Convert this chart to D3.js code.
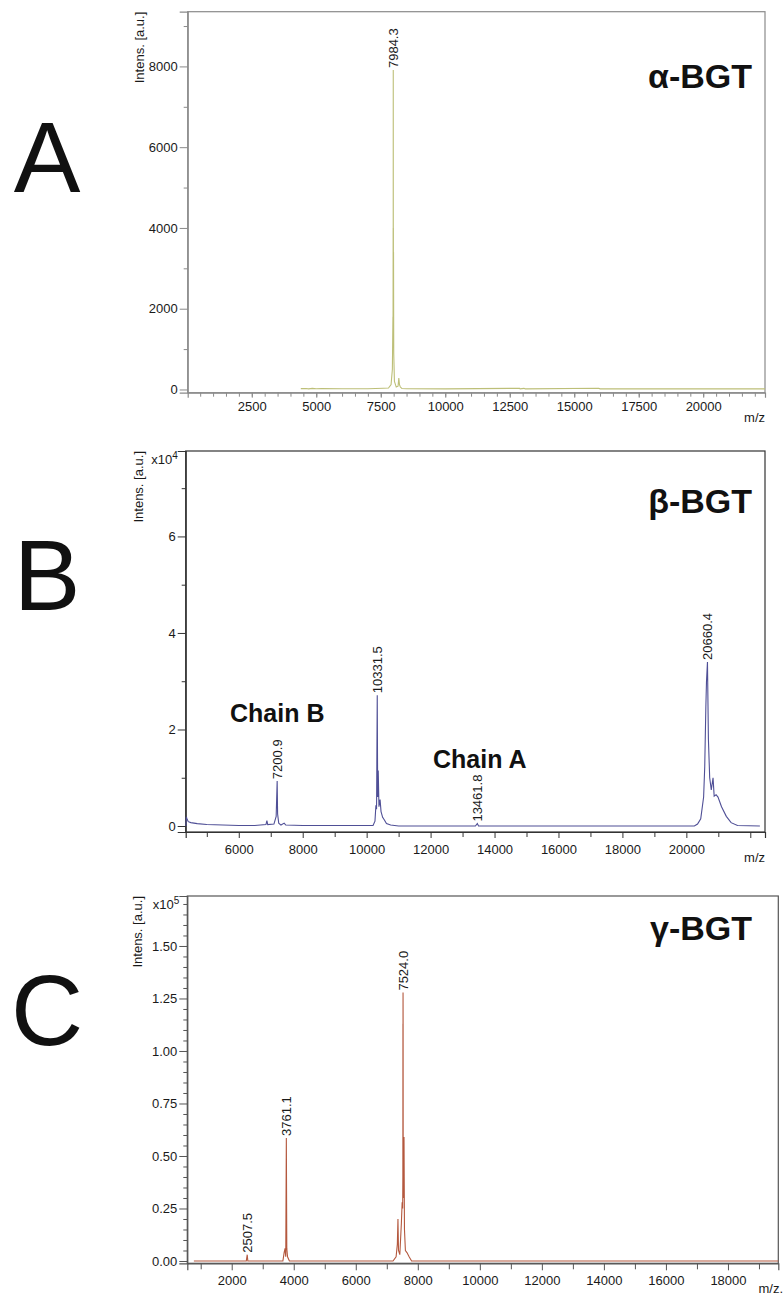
<!DOCTYPE html>
<html>
<head>
<meta charset="utf-8">
<script src="https://cdn.jsdelivr.net/npm/d3@7"></script>
<style>
  body { margin: 0; background: #fff; }
  svg text { font-family: "Liberation Sans", Arial, sans-serif; }
</style>
</head>
<body>
<svg id="chart" width="783" height="1295"></svg>
<script>
// ---- data ----
// alpha-BGT spectrum, [m/z, intensity a.u.]
const alphaSpectrum = [
  [4400, 20], [4600, 25], [4700, 15], [4850, 28], [5000, 18], [5200, 22], [6000, 18],
  [7000, 18], [7600, 30], [7800, 35], [7900, 120], [7950, 500], [7962, 1200],
  [7972, 1800], [7976, 1500], [7980, 4000], [7982, 1600], [7984.3, 7910], [7987, 1800],
  [7989, 4000], [7991, 1500], [7995, 3400], [8003, 900], [8030, 200], [8100, 60],
  [8170, 80], [8200, 280], [8225, 120], [8260, 60], [8320, 25], [8500, 18],
  [10000, 15], [12880, 30], [12900, 15], [13050, 28], [13100, 15], [15950, 30],
  [16000, 15], [22395, 15]
];
// beta-BGT spectrum, [m/z, intensity x10^4]
const betaSpectrum = [
  [4345, 0.0], [4360, 0.19], [4380, 0.15], [4420, 0.09], [4500, 0.07], [4700, 0.05],
  [5000, 0.03], [5500, 0.02], [6000, 0.01], [6500, 0.01], [6850, 0.03], [6880, 0.11],
  [6905, 0.03], [7100, 0.04], [7170, 0.2], [7200.9, 0.93], [7215, 0.25], [7250, 0.06],
  [7320, 0.02], [7420, 0.06], [7470, 0.02], [8000, 0.01], [10200, 0.01], [10260, 0.1],
  [10290, 0.43], [10310, 0.35], [10331.5, 2.71], [10345, 0.6], [10362, 1.15],
  [10385, 0.4], [10420, 0.55], [10450, 0.3], [10500, 0.18], [10560, 0.12],
  [10620, 0.05], [10750, 0.02], [11000, 0.0], [13400, 0.0], [13461.8, 0.05],
  [13500, 0.0], [20250, 0.0], [20350, 0.04], [20450, 0.15], [20540, 0.6],
  [20575, 1.23], [20610, 2.47], [20630, 3.0], [20660.4, 3.4], [20690, 1.8],
  [20730, 1.0], [20780, 0.75], [20835, 1.0], [20870, 0.62], [20930, 0.65],
  [20990, 0.6], [21100, 0.4], [21250, 0.2], [21400, 0.07], [21600, 0.01],
  [22300, 0.0]
];
// gamma-BGT spectrum, [m/z, intensity x10^5]
const gammaSpectrum = [
  [780, 0.0], [2000, 0.0], [2470, 0.0], [2500, 0.03], [2520, 0.0], [3650, 0.0],
  [3690, 0.04], [3720, 0.06], [3742, 0.02], [3761.1, 0.586], [3776, 0.06],
  [3800, 0.02], [3860, 0.0], [7200, 0.0], [7300, 0.02], [7340, 0.08],
  [7360, 0.2], [7378, 0.05], [7420, 0.03], [7470, 0.18], [7495, 0.28], [7512, 0.25],
  [7518, 0.4], [7521, 1.13], [7523, 0.4], [7524, 1.278], [7526, 1.13], [7529, 0.35],
  [7540, 0.3], [7555, 0.59], [7570, 0.15], [7600, 0.05], [7650, 0.04], [7720, 0.02],
  [7800, 0.0], [19620, 0.0]
];

// labelled peaks [m/z, intensity, label]
const alphaPeaks = [[7984.3, 7910, "7984.3"]];
const betaPeaks = [
  [7200.9, 0.93, "7200.9"], [10331.5, 2.71, "10331.5"],
  [13461.8, 0.05, "13461.8"], [20660.4, 3.4, "20660.4"]
];
const gammaPeaks = [
  [2507.5, 0.03, "2507.5"], [3761.1, 0.586, "3761.1"], [7524.0, 1.278, "7524.0"]
];

// tick values
const alphaXMajor = [2500, 5000, 7500, 10000, 12500, 15000, 17500, 20000];
const alphaXMinor = d3.range(500, 22500, 500);
const alphaYMajor = [0, 2000, 4000, 6000, 8000];
const alphaYMinor = [1000, 3000, 5000, 7000, 9000];

const betaXMajor = [6000, 8000, 10000, 12000, 14000, 16000, 18000, 20000, 22000];
const betaXMinor = [5000, 7000, 9000, 11000, 13000, 15000, 17000, 19000, 21000];
const betaYMajor = [0, 2, 4, 6];
const betaYMinor = [1, 3, 5, 7];

const gammaXMajor = [2000, 4000, 6000, 8000, 10000, 12000, 14000, 16000, 18000];
const gammaXMinor = [1000, 3000, 5000, 7000, 9000, 11000, 13000, 15000, 17000, 19000];
const gammaYMajor = [0, 0.25, 0.5, 0.75, 1.0, 1.25, 1.5];
const gammaYMinor = [0.05, 0.1, 0.15, 0.2, 0.3, 0.35, 0.4, 0.45, 0.55, 0.6, 0.65, 0.7,
  0.8, 0.85, 0.9, 0.95, 1.05, 1.1, 1.15, 1.2, 1.3, 1.35, 1.4, 1.45, 1.55, 1.6, 1.65, 1.7];

const svg = d3.select("#chart");

function drawPanel(p) {
  const g = svg.append("g");
  const x = d3.scaleLinear().domain(p.xDomain).range([p.left, p.right]);
  const y = d3.scaleLinear().domain(p.yDomain).range([p.bottom, p.top]);

  // frame
  g.append("rect")
    .attr("x", p.left).attr("y", p.top)
    .attr("width", p.right - p.left).attr("height", p.bottom - p.top)
    .attr("fill", "none").attr("stroke", p.frame).attr("stroke-width", 1.2);

  // x axis, major + minor
  g.append("g").attr("transform", `translate(0,${p.bottom})`)
    .call(d3.axisBottom(x).tickValues(p.xMajor).tickSize(p.xTick).tickPadding(p.xPad)
      .tickFormat((d) => (p.xNoLabel.includes(d) ? "" : d)));
  g.append("g").attr("transform", `translate(0,${p.bottom})`)
    .call(d3.axisBottom(x).tickValues(p.xMinor).tickSize(p.xTick - 1).tickFormat(""))
    .select(".domain").remove();

  // y axis, major + minor
  g.append("g").attr("transform", `translate(${p.left},0)`)
    .call(d3.axisLeft(y).tickValues(p.yMajor).tickSize(8).tickPadding(2)
      .tickFormat(p.yFormat));
  g.append("g").attr("transform", `translate(${p.left},0)`)
    .call(d3.axisLeft(y).tickValues(p.yMinor).tickSize(4).tickFormat(""))
    .select(".domain").remove();

  g.selectAll(".tick line").attr("stroke", p.frame);
  g.selectAll(".domain").attr("stroke", p.frame).attr("stroke-width", 1.2);
  g.selectAll(".tick text").attr("font-size", 13).attr("fill", "#1a1a1a")
    .attr("font-family", '"Liberation Sans", Arial, sans-serif');

  // spectrum
  const line = d3.line().x((d) => x(d[0])).y((d) => y(d[1]));
  g.append("path").datum(p.spectrum)
    .attr("d", line).attr("fill", "none")
    .attr("stroke", p.color).attr("stroke-width", 1.1);

  // peak labels
  p.peaks.forEach(([mz, h, label]) => {
    g.append("text")
      .attr("transform", `translate(${x(mz) + 4.6},${y(h) - 2}) rotate(-90)`)
      .attr("font-size", 13).attr("fill", "#1a1a1a")
      .text(label);
  });

  // axis titles
  g.append("text")
    .attr("transform", `translate(${p.yLabelX},${p.top}) rotate(-90)`)
    .attr("text-anchor", "end").attr("font-size", 13).attr("fill", "#1a1a1a")
    .text("Intens. [a.u.]");
  if (p.exp) {
    const t = g.append("text").attr("x", p.left - 8).attr("y", p.top + 13)
      .attr("text-anchor", "end").attr("font-size", 13).attr("fill", "#1a1a1a");
    t.append("tspan").text("x10");
    t.append("tspan").attr("font-size", 10).attr("dy", -5).text(p.exp);
  }
  g.append("text").attr("x", p.mzX).attr("y", p.mzY)
    .attr("text-anchor", "end").attr("font-size", 13).attr("fill", "#1a1a1a")
    .text(p.mzText);

  // title & panel letter
  g.append("text").attr("x", 752).attr("y", p.titleY)
    .attr("text-anchor", "end").attr("font-size", 34).attr("font-weight", "bold")
    .attr("fill", "#111").text(p.title);
  g.append("text").attr("x", 47).attr("y", p.letterY)
    .attr("text-anchor", "middle").attr("font-size", 100)
    .attr("fill", "#111").text(p.letter);

  return { g, x, y };
}

drawPanel({
  spectrum: alphaSpectrum, peaks: alphaPeaks, color: "#bdbf78", frame: "#8a8a8a",
  xDomain: [16, 22395], yDomain: [-80, 9355],
  left: 187.7, right: 765, top: 11.7, bottom: 392.7,
  xMajor: alphaXMajor, xMinor: alphaXMinor, xNoLabel: [], xTick: 5, xPad: 4,
  yMajor: alphaYMajor, yMinor: alphaYMinor, yFormat: d3.format("d"),
  yLabelX: 144, exp: null, mzX: 765, mzY: 422, mzText: "m/z",
  title: "α-BGT", titleY: 88, letter: "A", letterY: 192
});

const beta = drawPanel({
  spectrum: betaSpectrum, peaks: betaPeaks, color: "#4f4f96", frame: "#333",
  xDomain: [4340, 22460], yDomain: [-0.124, 7.77],
  left: 185.7, right: 765, top: 451, bottom: 832,
  xMajor: betaXMajor, xMinor: betaXMinor, xNoLabel: [22000], xTick: 6, xPad: 7,
  yMajor: betaYMajor, yMinor: betaYMinor, yFormat: d3.format("d"),
  yLabelX: 143, exp: "4", mzX: 765, mzY: 862, mzText: "m/z",
  title: "β-BGT", titleY: 513, letter: "B", letterY: 610
});
beta.g.append("text").attr("x", 230).attr("y", 722)
  .attr("font-size", 25).attr("font-weight", "bold").attr("fill", "#111").text("Chain B");
beta.g.append("text").attr("x", 433).attr("y", 768)
  .attr("font-size", 25).attr("font-weight", "bold").attr("fill", "#111").text("Chain A");

drawPanel({
  spectrum: gammaSpectrum, peaks: gammaPeaks, color: "#b4583e", frame: "#555",
  xDomain: [568, 19623], yDomain: [-0.011, 1.738],
  left: 187.3, right: 778.3, top: 896, bottom: 1263.3,
  xMajor: gammaXMajor, xMinor: gammaXMinor, xNoLabel: [], xTick: 7, xPad: 5,
  yMajor: gammaYMajor, yMinor: gammaYMinor, yFormat: d3.format(".2f"),
  yLabelX: 142, exp: "5", mzX: 783, mzY: 1293, mzText: "m/z.",
  title: "γ-BGT", titleY: 940, letter: "C", letterY: 1045
});
</script>
</body>
</html>
